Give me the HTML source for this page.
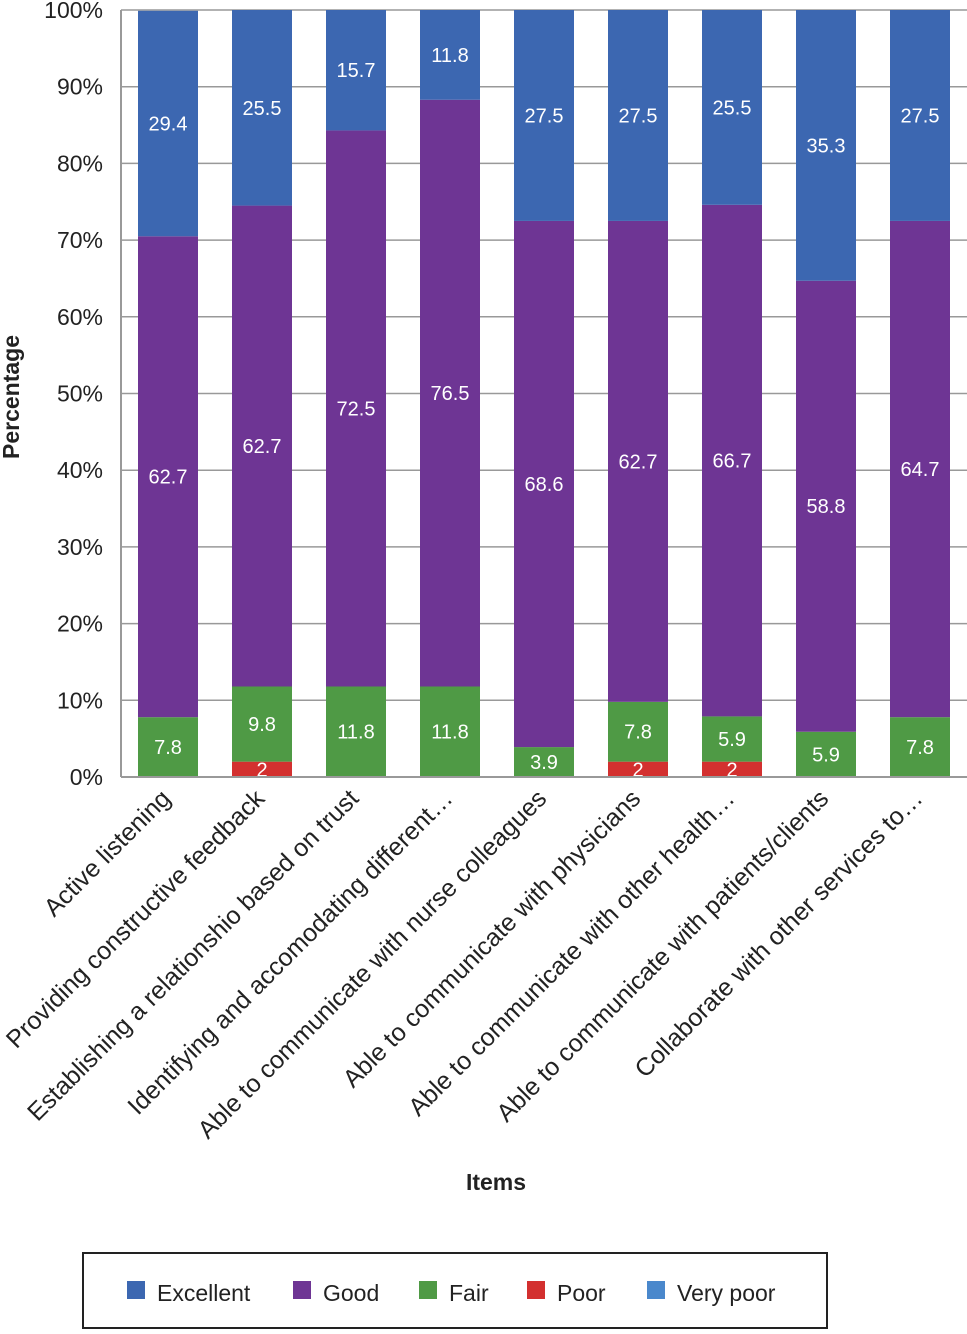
<!DOCTYPE html>
<html><head><meta charset="utf-8"><style>
body{margin:0;background:#fff;width:967px;height:1329px;overflow:hidden}
svg text{font-family:"Liberation Sans",sans-serif}
</style></head><body>
<svg id="c" width="967" height="1329"></svg>
<script>
const categories=["Active listening","Providing constructive feedback","Establishing a relationshio based on trust","Identifying and accomodating different…","Able to communicate with nurse colleagues","Able to communicate with physicians","Able to communicate with other health…","Able to communicate with patients/clients","Collaborate with other services to…"];
const veryPoor=[0,0,0,0,0,0,0,0,0];
const poor=[0,2,0,0,0,2,2,0,0];
const fair=[7.8,9.8,11.8,11.8,3.9,7.8,5.9,5.9,7.8];
const good=[62.7,62.7,72.5,76.5,68.6,62.7,66.7,58.8,64.7];
const excellent=[29.4,25.5,15.7,11.8,27.5,27.5,25.5,35.3,27.5];
const yTicks=[0,10,20,30,40,50,60,70,80,90,100];
const seriesNames=["Excellent","Good","Fair","Poor","Very poor"];
const colors={"Very poor":"#4a88cc","Poor":"#d3302f","Fair":"#4f9a45","Good":"#6e3594","Excellent":"#3c67b1"};
const NS="http://www.w3.org/2000/svg",svg=document.getElementById('c');
function mk(t,a,p){const e=document.createElementNS(NS,t);for(const k in a)e.setAttribute(k,a[k]);(p||svg).appendChild(e);return e;}
const x0=121,x1=967,yB=777,yT=10;
const y=v=>yB-(yB-yT)*Math.min(v,100)/100;
const pitch=94,bw=60;
const xc=i=>x0+47+i*pitch;
yTicks.forEach(t=>{
 const l=mk('line',{x1:x0,x2:x1,y1:y(t),y2:y(t),stroke:'#999','stroke-width':1.5});
 
 const tx=mk('text',{x:103,y:y(t)+8,'text-anchor':'end','font-size':23,fill:'#222'});tx.textContent=t+'%';
 
});
const ax=mk('line',{x1:x0,x2:x0,y1:yT,y2:yB,stroke:'#999','stroke-width':2});

const stack=[["Very poor",veryPoor],["Poor",poor],["Fair",fair],["Good",good],["Excellent",excellent]];
categories.forEach((c,i)=>{
 let cum=0;
 stack.forEach(([n,arr])=>{
  const v=arr[i];if(!v)return;
  const a=y(cum),b=y(cum+v);cum+=v;
  const r=mk('rect',{x:xc(i)-bw/2,y:b,width:bw,height:a-b,fill:colors[n]});
  
  const t=mk('text',{x:xc(i),y:(a+b)/2+7,'text-anchor':'middle','font-size':20,fill:'#fff'});t.textContent=v;
  
 });
 const lt=mk('text',{'text-anchor':'end','font-size':25,fill:'#222',transform:`translate(${xc(i)+4},800) rotate(-45)`});lt.textContent=c;
 
});
const bl=mk('line',{x1:x0,x2:x1,y1:yB,y2:yB,stroke:'#999','stroke-width':2});

const xt=mk('text',{x:496,y:1190,'text-anchor':'middle','font-size':23,'font-weight':'bold',fill:'#222'});xt.textContent='Items';

const yt=mk('text',{'text-anchor':'middle','font-size':23,'font-weight':'bold',fill:'#222',transform:'translate(19,397) rotate(-90)'});yt.textContent='Percentage';

const lg=mk('rect',{x:83,y:1253,width:744,height:75,fill:'#fff',stroke:'#222','stroke-width':2});

const lx=[127,293,419,527,647];
seriesNames.forEach((n,k)=>{
 const s=mk('rect',{x:lx[k],y:1281,width:18,height:18,fill:colors[n]});
 
 const t=mk('text',{x:lx[k]+30,y:1301,'font-size':23,fill:'#222'});t.textContent=n;
 
});
</script>
</body></html>
